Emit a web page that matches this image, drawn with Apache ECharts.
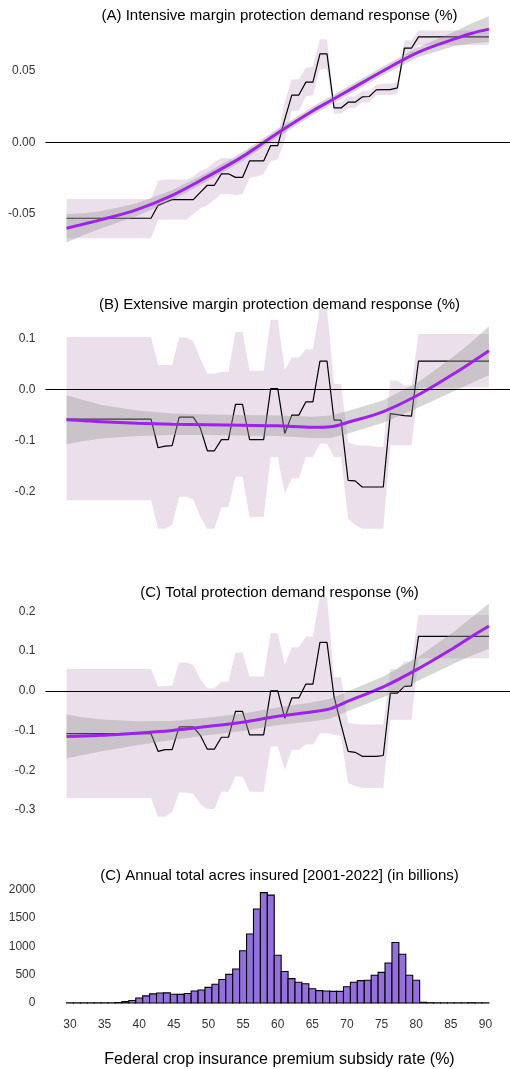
<!DOCTYPE html>
<html><head><meta charset="utf-8">
<script src="https://cdn.jsdelivr.net/npm/echarts@6/dist/echarts.min.js"></script>
<style>html,body{margin:0;padding:0;background:#fff}#c{width:510px;height:1069px}</style>
</head><body><div id="c"></div>
<script>
// ---------- data ----------
const xs = [30,31,32,33,34,35,36,37,38,39,40,41,42,43,44,45,46,47,48,49,50,51,52,53,54,55,56,57,58,59,60,
            61,62,63,64,65,66,67,68,69,70,71,72,73,74,75,76,77,78,79,80,81,82,83,84,85,86,87,88,89,90];

const aLine = [-0.053,-0.053,-0.053,-0.053,-0.053,-0.053,-0.053,-0.053,-0.053,-0.053,
  -0.053,-0.053,-0.053,-0.044,-0.042,-0.040,-0.040,-0.040,-0.040,-0.035,
  -0.030,-0.030,-0.022,-0.022,-0.0245,-0.0245,-0.013,-0.013,-0.013,-0.0023,
  -0.0023,0.016,0.033,0.033,0.042,0.042,0.0617,0.0617,0.024,0.024,
  0.028,0.028,0.0317,0.032,0.0366,0.0368,0.0368,0.038,0.0657,0.0657,
  0.0736,0.0736,0.0736,0.0736,0.0736,0.0736,0.0736,0.0736,0.0736,0.0736,0.0736];
const aLo = [-0.067,-0.067,-0.067,-0.067,-0.067,-0.067,-0.067,-0.067,-0.067,-0.067,
  -0.067,-0.067,-0.067,-0.054,-0.054,-0.054,-0.054,-0.054,-0.050,-0.046,
  -0.044,-0.040,-0.036,-0.036,-0.037,-0.036,-0.025,-0.024,-0.022,-0.013,
  -0.012,0.002,0.022,0.022,0.032,0.033,0.051,0.051,0.020,0.020,
  0.024,0.024,0.028,0.028,0.033,0.033,0.033,0.034,0.061,0.061,
  0.068,0.068,0.068,0.068,0.068,0.068,0.068,0.068,0.068,0.068,0.068];
const aHi = [-0.0396,-0.0396,-0.0396,-0.0396,-0.0396,-0.0396,-0.0396,-0.0396,-0.0396,-0.0396,
  -0.0396,-0.0396,-0.0396,-0.027,-0.026,-0.026,-0.026,-0.026,-0.024,-0.020,
  -0.018,-0.014,-0.011,-0.011,-0.013,-0.012,-0.004,-0.003,-0.003,0.004,
  0.004,0.028,0.044,0.044,0.052,0.053,0.072,0.072,0.028,0.028,
  0.032,0.032,0.036,0.036,0.040,0.041,0.041,0.042,0.071,0.071,
  0.078,0.078,0.078,0.078,0.078,0.078,0.078,0.078,0.078,0.078,0.078];

const bLine = [-0.058,-0.058,-0.058,-0.058,-0.058,-0.058,-0.058,-0.058,-0.058,-0.058,
  -0.058,-0.058,-0.058,-0.114,-0.111,-0.110,-0.054,-0.054,-0.054,-0.075,
  -0.120,-0.120,-0.098,-0.098,-0.029,-0.029,-0.098,-0.098,-0.098,0.002,
  0.002,-0.086,-0.050,-0.050,-0.024,-0.024,0.056,0.056,-0.060,-0.060,
  -0.178,-0.179,-0.191,-0.191,-0.191,-0.191,-0.047,-0.049,-0.051,-0.052,
  0.056,0.056,0.056,0.056,0.056,0.056,0.056,0.056,0.056,0.056,0.056];
const bLo = [-0.217,-0.217,-0.217,-0.217,-0.217,-0.217,-0.217,-0.217,-0.217,-0.217,
  -0.217,-0.217,-0.217,-0.273,-0.273,-0.265,-0.210,-0.210,-0.215,-0.250,
  -0.273,-0.273,-0.230,-0.230,-0.171,-0.171,-0.250,-0.250,-0.250,-0.132,
  -0.132,-0.204,-0.174,-0.174,-0.132,-0.132,-0.106,-0.106,-0.132,-0.132,
  -0.253,-0.265,-0.273,-0.273,-0.273,-0.273,-0.109,-0.109,-0.109,-0.109,
  0.004,0.004,0.004,0.004,0.004,0.004,0.004,0.004,0.004,0.004,0.004];
const bHi = [0.103,0.103,0.103,0.103,0.103,0.103,0.103,0.103,0.103,0.103,
  0.103,0.103,0.103,0.048,0.048,0.048,0.102,0.102,0.095,0.060,
  0.031,0.031,0.035,0.035,0.113,0.113,0.037,0.037,0.037,0.137,
  0.137,0.039,0.063,0.063,0.079,0.079,0.159,0.159,0.011,0.011,
  -0.103,-0.108,-0.110,-0.110,-0.112,-0.112,0.018,0.018,0.008,0.008,
  0.109,0.109,0.109,0.109,0.109,0.109,0.109,0.109,0.109,0.109,0.109];

const cLine = [-0.108,-0.108,-0.108,-0.108,-0.108,-0.108,-0.108,-0.108,-0.108,-0.108,
  -0.108,-0.108,-0.108,-0.1525,-0.148,-0.148,-0.091,-0.091,-0.091,-0.112,
  -0.147,-0.147,-0.117,-0.117,-0.052,-0.052,-0.111,-0.111,-0.111,0.000,
  0.000,-0.069,-0.018,-0.018,0.017,0.017,0.122,0.122,-0.015,-0.085,
  -0.1525,-0.155,-0.165,-0.165,-0.165,-0.163,-0.006,-0.006,0.011,0.0126,
  0.137,0.137,0.137,0.137,0.137,0.137,0.137,0.137,0.137,0.137,0.137];
const cLo = [-0.270,-0.270,-0.270,-0.270,-0.270,-0.270,-0.270,-0.270,-0.270,-0.270,
  -0.270,-0.270,-0.270,-0.317,-0.317,-0.305,-0.256,-0.256,-0.260,-0.285,
  -0.298,-0.298,-0.254,-0.254,-0.216,-0.216,-0.254,-0.254,-0.254,-0.140,
  -0.140,-0.199,-0.149,-0.149,-0.135,-0.135,-0.107,-0.107,-0.110,-0.115,
  -0.232,-0.240,-0.245,-0.245,-0.245,-0.245,-0.073,-0.073,-0.073,-0.073,
  0.082,0.082,0.082,0.082,0.082,0.082,0.082,0.082,0.082,0.082,0.082];
const cHi = [0.0546,0.0546,0.0546,0.0546,0.0546,0.0546,0.0546,0.0546,0.0546,0.0546,
  0.0546,0.0546,0.0546,0.011,0.0126,0.0126,0.071,0.071,0.065,0.030,
  0.0067,0.0067,0.023,0.023,0.0965,0.0965,0.036,0.036,0.036,0.145,
  0.145,0.0655,0.110,0.110,0.137,0.137,0.237,0.237,0.034,0.034,
  -0.081,-0.083,-0.085,-0.085,-0.085,-0.085,0.0546,0.0546,0.074,0.074,
  0.191,0.191,0.191,0.191,0.191,0.191,0.191,0.191,0.191,0.191,0.191];

// smooth fits (loess-like) and their bands
const sx = [30,32.5,35,40,45,50,55,60,65,67.5,70,75,80,85,87.5,90];
const aFit   = [-0.060,-0.057,-0.054,-0.047,-0.037,-0.024,-0.010,0.0065,0.022,0.029,0.036,0.050,0.063,0.072,0.076,0.079];
const aFitLo = [-0.070,-0.0645,-0.060,-0.0515,-0.0405,-0.027,-0.013,0.0035,0.019,0.026,0.033,0.047,0.0595,0.067,0.069,0.070];
const aFitHi = [-0.050,-0.0495,-0.048,-0.0425,-0.0335,-0.021,-0.007,0.0095,0.025,0.032,0.039,0.053,0.0665,0.077,0.083,0.088];
const bFit   = [-0.059,-0.061,-0.063,-0.066,-0.068,-0.069,-0.070,-0.071,-0.074,-0.073,-0.064,-0.043,-0.010,0.031,0.053,0.076];
const bFitLo = [-0.107,-0.101,-0.096,-0.091,-0.089,-0.089,-0.090,-0.091,-0.095,-0.095,-0.086,-0.065,-0.035,-0.003,0.013,0.028];
const bFitHi = [-0.011,-0.021,-0.030,-0.041,-0.047,-0.049,-0.050,-0.051,-0.053,-0.051,-0.042,-0.021,0.015,0.065,0.093,0.124];
const cFit   = [-0.115,-0.114,-0.112,-0.107,-0.100,-0.090,-0.079,-0.064,-0.053,-0.045,-0.026,0.010,0.056,0.108,0.136,0.163];
const cFitLo = [-0.170,-0.161,-0.152,-0.137,-0.124,-0.112,-0.101,-0.086,-0.077,-0.070,-0.051,-0.016,0.026,0.068,0.088,0.106];
const cFitHi = [-0.060,-0.067,-0.072,-0.077,-0.076,-0.068,-0.057,-0.042,-0.029,-0.020,-0.001,0.036,0.086,0.148,0.184,0.220];

// histogram
const histX = xs;
const histY = [3,3,3,3,3,3,3,8,25,45,
  88,125,160,175,178,155,152,168,212,230,
  275,330,415,505,600,920,1215,1655,1945,1900,
  840,555,430,365,340,250,218,212,205,205,
  285,365,395,402,490,540,705,1065,860,490,
  400,12,5,3,3,3,3,3,5,3,3];

const ticksA = [-0.05, 0, 0.05];
const ticksB = [-0.2, -0.1, 0, 0.1];
const ticksC = [-0.3, -0.2, -0.1, 0, 0.1, 0.2];
const ticksH = [0, 500, 1000, 1500, 2000];
const ticksX = [30, 35, 40, 45, 50, 55, 60, 65, 70, 75, 80, 85, 90];

const titles = [
  '(A) Intensive margin protection demand response (%)',
  '(B) Extensive margin protection demand response (%)',
  '(C) Total protection demand response (%)',
  '(C) Annual total acres insured [2001-2022] (in billions)'
];
const xTitle = 'Federal crop insurance premium subsidy rate (%)';

// ---------- chart ----------
const FONT = '"Liberation Sans", Arial, sans-serif';
const PINK = 'rgba(216,191,216,0.5)';
const GREYBAND = 'rgba(153,153,153,0.4)';
const PURPLE = '#a020f0';

function pairs(x, y) { return x.map((v, i) => [v, y[i]]); }

function bandSeries(idx, x, lo, hi, color, z) {
  return {
    type: 'custom', xAxisIndex: idx, yAxisIndex: idx, z: z, silent: true,
    data: [[x[0], lo[0]]],
    renderItem: function (params, api) {
      const pts = [];
      for (let i = 0; i < x.length; i++) pts.push(api.coord([x[i], hi[i]]));
      for (let i = x.length - 1; i >= 0; i--) pts.push(api.coord([x[i], lo[i]]));
      return { type: 'polygon', shape: { points: pts }, style: { fill: color, stroke: null } };
    }
  };
}

const grids = [
  { left: 45.45, width: 467.5, top: 13.4, height: 243.5 },
  { left: 45.45, width: 467.5, top: 287.6, height: 255 },
  { left: 45.45, width: 467.5, top: 571.7, height: 277.9 },
  { left: 45.4, width: 467.6, top: 861.1, height: 141.9 }
];

const yLab = (ticks, fmt) => ({
  customValues: ticks, formatter: fmt, margin: 10, color: '#333',
  fontSize: 12, fontFamily: FONT
});

const yAxes = [
  { gridIndex: 0, type: 'value', min: -0.08, max: 0.09, axisLabel: yLab(ticksA, v => v.toFixed(2)) },
  { gridIndex: 1, type: 'value', min: -0.3, max: 0.2, axisLabel: yLab(ticksB, v => v.toFixed(1)) },
  { gridIndex: 2, type: 'value', min: -0.4, max: 0.3, axisLabel: yLab(ticksC, v => v.toFixed(1)) },
  { gridIndex: 3, type: 'value', min: 0, max: 2500, axisLabel: yLab(ticksH, v => String(Math.round(v))) }
].map(a => Object.assign(a, {
  axisLine: { show: false }, axisTick: { show: false }, splitLine: { show: false }
}));

const xAxes = [0, 1, 2].map(i => ({
  gridIndex: i, type: 'value', min: 27, max: 93, show: false, splitLine: { show: false }
}));
xAxes.push({
  gridIndex: 3, type: 'value', min: 26.45, max: 93.55,
  axisLine: { show: false }, axisTick: { show: false }, splitLine: { show: false },
  axisLabel: { customValues: ticksX, formatter: v => String(Math.round(v)), margin: 16,
    color: '#333', fontSize: 12, fontFamily: FONT }
});

const panels = [
  [aLine, aLo, aHi, aFit, aFitLo, aFitHi],
  [bLine, bLo, bHi, bFit, bFitLo, bFitHi],
  [cLine, cLo, cHi, cFit, cFitLo, cFitHi]
];

const series = [];
panels.forEach((p, i) => {
  series.push(bandSeries(i, xs, p[1], p[2], PINK, 1));
  series.push({
    type: 'line', xAxisIndex: i, yAxisIndex: i, z: 2, silent: true,
    data: pairs(xs, p[0]), showSymbol: false, symbol: 'none',
    lineStyle: { color: '#000', width: 1.2 },
    markLine: {
      silent: true, symbol: 'none', label: { show: false },
      lineStyle: { color: '#000', width: 1.2, type: 'solid' },
      data: [{ yAxis: 0 }]
    }
  });
  series.push(bandSeries(i, sx, p[4], p[5], GREYBAND, 3));
  series.push({
    type: 'line', xAxisIndex: i, yAxisIndex: i, z: 4, silent: true,
    data: pairs(sx, p[3]), showSymbol: false, symbol: 'none', smooth: 0.35,
    lineStyle: { color: PURPLE, width: 3 }
  });
});

series.push({
  type: 'custom', xAxisIndex: 3, yAxisIndex: 3, z: 2, silent: true,
  data: pairs(histX, histY),
  renderItem: function (params, api) {
    const x = api.value(0), y = api.value(1);
    const p0 = api.coord([x - 0.5, y]);
    const p1 = api.coord([x + 0.5, 0]);
    return {
      type: 'rect',
      shape: { x: p0[0], y: p0[1], width: p1[0] - p0[0], height: p1[1] - p0[1] },
      style: { fill: '#9370db', stroke: '#000', lineWidth: 1.1 }
    };
  }
});

const titleY = [16, 305, 592.5, 876];
const graphics = titles.map((t, i) => ({
  type: 'text', x: 279.5, y: titleY[i], silent: true,
  style: { text: t, fill: '#000', font: '15px ' + FONT,
    textAlign: 'center', textVerticalAlign: 'middle', align: 'center', verticalAlign: 'middle' }
}));
graphics.push({
  type: 'text', x: 279.5, y: 1060, silent: true,
  style: { text: xTitle, fill: '#000', font: '16px ' + FONT,
    textAlign: 'center', textVerticalAlign: 'middle', align: 'center', verticalAlign: 'middle' }
});

const chart = echarts.init(document.getElementById('c'), null, { renderer: 'canvas' });
chart.setOption({
  animation: false,
  backgroundColor: '#fff',
  grid: grids,
  xAxis: xAxes,
  yAxis: yAxes,
  series: series,
  graphic: graphics
});
</script>
</body></html>
